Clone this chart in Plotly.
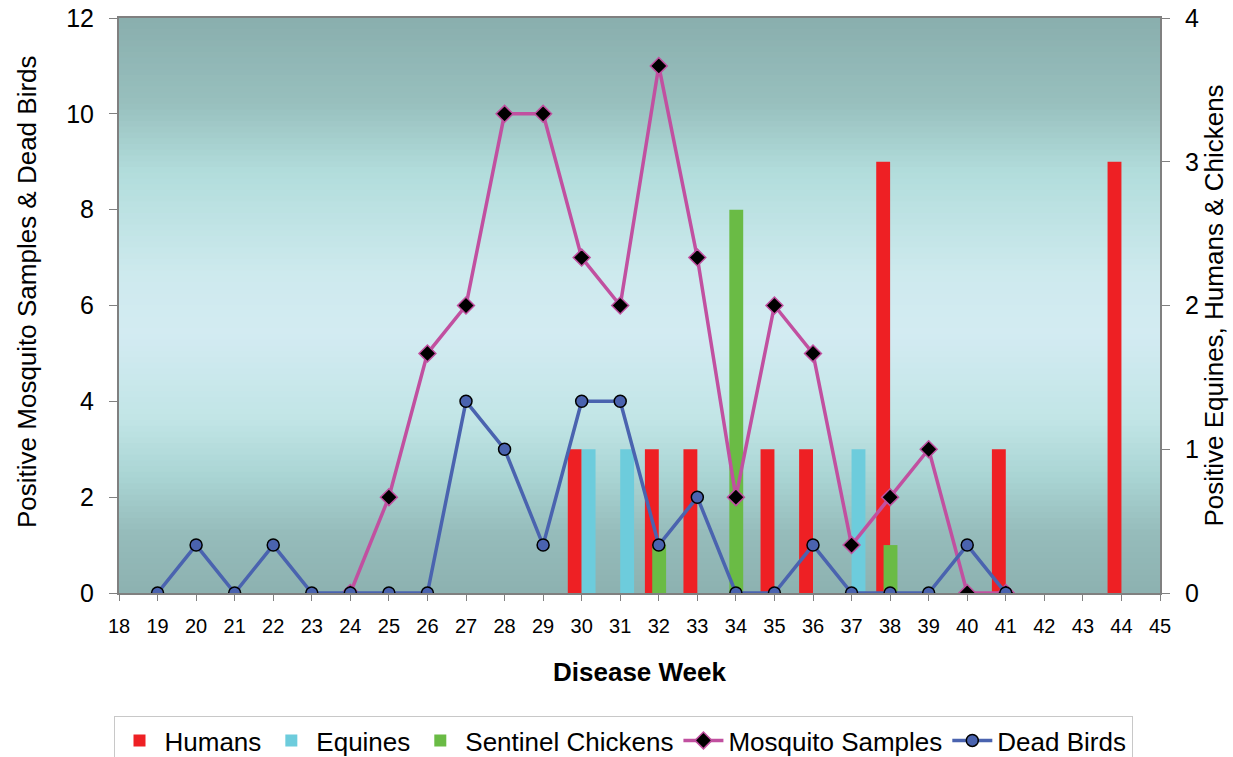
import plotly.graph_objects as go

# ---- data ----
weeks_birds = list(range(19, 42))
dead_birds = [0, 1, 0, 1, 0, 0, 0, 0, 4, 3, 1, 4, 4, 1, 2, 0, 0, 1, 0, 0, 0, 1, 0]

weeks_mosq = list(range(24, 42))
mosquito = [0, 2, 5, 6, 10, 10, 7, 6, 11, 7, 2, 6, 5, 1, 2, 3, 0, 0]

weeks_humans = [30, 32, 33, 35, 36, 38, 41, 44]
humans = [1, 1, 1, 1, 1, 3, 1, 3]

weeks_equines = [30, 31, 37]
equines = [1, 1, 1]

weeks_chickens = [32, 34, 38]
chickens = [1, 8, 1]

x_ticks = list(range(18, 46))

# ---- style ----
FONT = "Liberation Sans, Arial, sans-serif"
GRAY = "#808080"
BW = 0.36

fig = go.Figure()

fig.add_trace(go.Bar(x=weeks_humans, y=humans, name="Humans", yaxis="y",
                     marker=dict(color="#EE2024", line=dict(width=0)),
                     width=BW, offset=-BW))
fig.add_trace(go.Bar(x=weeks_equines, y=equines, name="Equines", yaxis="y",
                     marker=dict(color="#6DCCDC", line=dict(width=0)),
                     width=BW, offset=0))
fig.add_trace(go.Bar(x=weeks_chickens, y=chickens, name="Sentinel Chickens", yaxis="y2",
                     marker=dict(color="#6ABB45", line=dict(width=0)),
                     width=BW, offset=-0.17))
fig.add_trace(go.Scatter(x=weeks_mosq, y=mosquito, name="Mosquito Samples", yaxis="y2",
                         mode="lines+markers",
                         line=dict(color="#C150A0", width=3.5),
                         marker=dict(symbol="diamond", size=13, color="black",
                                     line=dict(color="#C150A0", width=1.5))))
fig.add_trace(go.Scatter(x=weeks_birds, y=dead_birds, name="Dead Birds", yaxis="y2",
                         mode="lines+markers",
                         line=dict(color="#4A63AF", width=3.5),
                         marker=dict(symbol="circle", size=12, color="#4A63AF",
                                     line=dict(color="black", width=1.5))))

# gradient background stripes
stops = [(0.0, (0x89, 0xAE, 0xAD)), (0.15, (0x98, 0xC0, 0xBE)), (0.27, (0xB2, 0xDD, 0xDC)),
         (0.45, (0xCE, 0xEA, 0xEE)), (0.55, (0xD3, 0xEB, 0xF2)), (0.70, (0xC1, 0xE5, 0xE6)),
         (0.80, (0xA9, 0xD4, 0xD3)), (0.90, (0x95, 0xBB, 0xBA)), (1.0, (0x8D, 0xB2, 0xB1))]


def col_at(t):
    for (t0, c0), (t1, c1) in zip(stops[:-1], stops[1:]):
        if t0 <= t <= t1:
            f = (t - t0) / (t1 - t0) if t1 > t0 else 0
            return "rgb(%d,%d,%d)" % tuple(round(a + (b - a) * f) for a, b in zip(c0, c1))
    return "rgb(%d,%d,%d)" % stops[-1][1]


N = 100
shapes = []
for i in range(N):
    t = (i + 0.5) / N  # from top
    y1 = 1 - i / N
    y0 = 1 - (i + 1) / N
    shapes.append(dict(type="rect", xref="x domain", yref="y domain",
                       x0=0, x1=1, y0=y0 - 0.001, y1=y1 + 0.001,
                       fillcolor=col_at(t), line=dict(width=0), layer="below"))

fig.update_layout(
    width=1233, height=757,
    margin=dict(l=119, r=73, t=18, b=164),
    paper_bgcolor="white", plot_bgcolor="#C8E6E8",
    font=dict(family=FONT, color="black"),
    barmode="overlay",
    shapes=shapes,
    xaxis=dict(range=[18, 45], tickmode="array", tickvals=x_ticks,
               ticktext=[str(v) for v in x_ticks],
               showgrid=False, zeroline=False, automargin=False,
               showline=True, linecolor=GRAY, linewidth=2, mirror=True,
               ticks="outside", ticklen=6, tickcolor=GRAY, tickwidth=1,
               ticklabelstandoff=8,
               tickfont=dict(size=20, family=FONT),
               title=dict(text="<b>Disease Week</b>", font=dict(size=26, family=FONT), standoff=27)),
    yaxis=dict(range=[0, 4], dtick=1, side="right",
               showgrid=False, zeroline=False, automargin=False,
               showline=True, linecolor=GRAY, linewidth=2,
               ticks="outside", ticklen=8, tickcolor=GRAY, tickwidth=1,
               ticklabelstandoff=10,
               tickfont=dict(size=25, family=FONT),
               title=dict(text="Positive Equines, Humans & Chickens",
                          font=dict(size=26, family=FONT), standoff=6)),
    yaxis2=dict(range=[0, 12], dtick=2, side="left", overlaying="y", anchor="x",
                showgrid=False, zeroline=False, automargin=False,
                showline=True, linecolor=GRAY, linewidth=2,
                ticks="outside", ticklen=8, tickcolor=GRAY, tickwidth=1,
                ticklabelstandoff=10,
                tickfont=dict(size=25, family=FONT)),
    annotations=[dict(text="Positive Mosquito Samples & Dead Birds",
                      xref="paper", yref="paper", x=(27 - 119) / 1041, y=(593 - 292) / 575,
                      xanchor="center", yanchor="middle", textangle=-90, showarrow=False,
                      font=dict(size=26, family=FONT))],
    legend=dict(orientation="h", x=(623 - 119) / 1041, xanchor="center", xref="paper",
                y=(757 - 716) / 757, yanchor="top", yref="container",
                bgcolor="white", bordercolor="#C8C8C8", borderwidth=1,
                font=dict(size=26, family=FONT), itemwidth=40,
                traceorder="normal"),
    showlegend=True,
)

fig.write_html("out.html")
